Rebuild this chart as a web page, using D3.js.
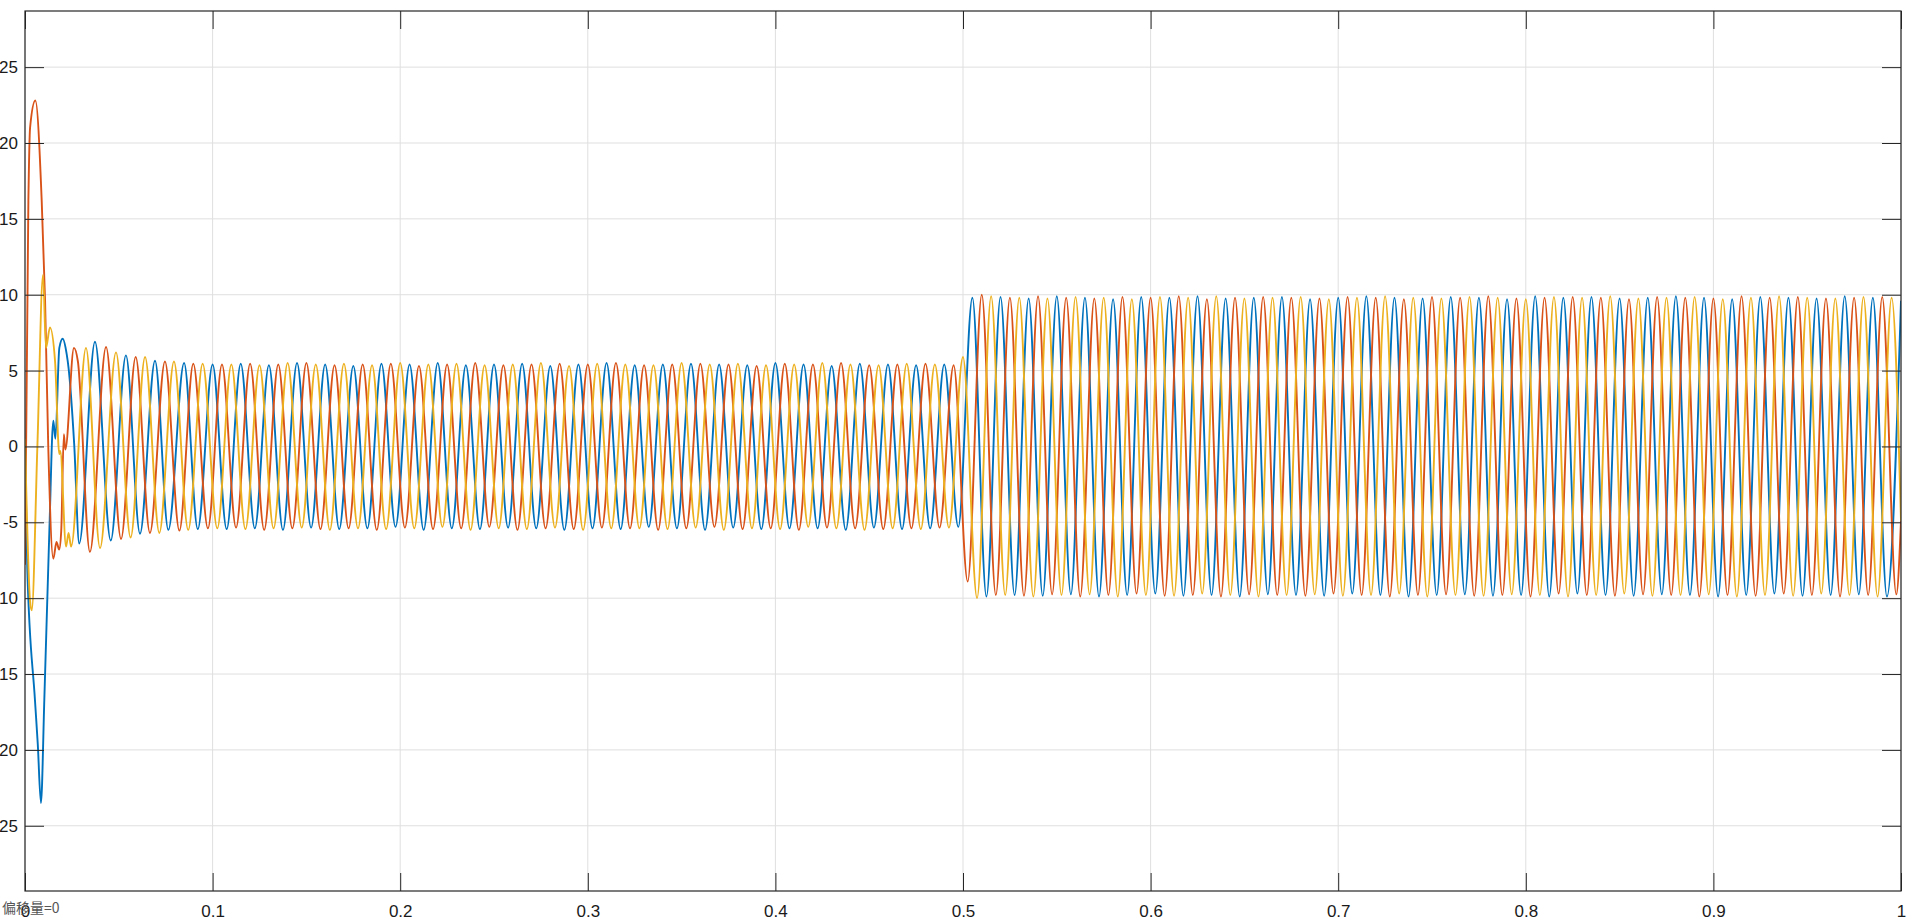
<!DOCTYPE html>
<html>
<head>
<meta charset="utf-8">
<script src="https://cdn.jsdelivr.net/npm/d3@7"></script>
<style>
  html, body { margin: 0; padding: 0; background: #ffffff; overflow: hidden; }
  svg { display: block; }
</style>
</head>
<body>
<script>
// ---------------- DATA ----------------
const xTicks = [0, 0.1, 0.2, 0.3, 0.4, 0.5, 0.6, 0.7, 0.8, 0.9, 1];
const xTickLabels = ["0", "0.1", "0.2", "0.3", "0.4", "0.5", "0.6", "0.7", "0.8", "0.9", "1"];
const yTicks = [-25, -20, -15, -10, -5, 0, 5, 10, 15, 20, 25];
const yTickLabels = ["-25", "-20", "-15", "-10", "-5", "0", "5", "10", "15", "20", "25"];
const xDomain = [0, 1];
const yDomain = [-29.3, 28.7];
const offsetLabel = "偏移量=0";
const seriesNames = ["ia", "ib", "ic"];

// phase A (blue): [time s, current A] at turning points
const phaseA = [[0,0],[0.0012,-8],[0.0053,-16.7],[0.0068,-19.6],[0.0085,-23.5],[0.0103,-16.7],[0.013,-5.5],[0.0151,1.7],[0.0162,0.5],[0.0183,6.5],[0.0201,7.1],[0.0222,6.1],[0.0232,5.2],[0.0262,0.2],[0.0289,-6.4],[0.0373,6.9],[0.0457,-6.2],[0.0538,6.0],[0.0613,-5.75],[0.0693,5.65],[0.0764,-5.5],[0.0848,5.5],[0.0921,-5.45],
[0.1,5.4],[0.1075,-5.45],[0.115,5.45],[0.1225,-5.4],[0.13,5.35],[0.1375,-5.5],[0.145,5.5],[0.1525,-5.35],[0.16,5.4],[0.1675,-5.45],[0.175,5.3],[0.1825,-5.4],[0.19,5.45],[0.1975,-5.3],[0.205,5.4],[0.2125,-5.5],[0.22,5.5],[0.2275,-5.4],[0.235,5.35],[0.2425,-5.45],[0.25,5.4],[0.2575,-5.35],[0.265,5.45],[0.2725,-5.4],[0.28,5.3],[0.2875,-5.5],[0.295,5.4],[0.3025,-5.4],[0.31,5.5],[0.3175,-5.45],[0.325,5.35],[0.3325,-5.3],[0.34,5.4],[0.3475,-5.4],[0.355,5.45],[0.3625,-5.5],[0.37,5.4],[0.3775,-5.35],[0.385,5.35],[0.3925,-5.45],[0.4,5.5],[0.4075,-5.4],[0.415,5.4],[0.4225,-5.4],[0.43,5.3],[0.4375,-5.5],[0.445,5.45],[0.4525,-5.35],[0.46,5.4],[0.4675,-5.45],[0.475,5.35],[0.4825,-5.4],[0.49,5.4],[0.4975,-5.3],
[0.505,9.8],[0.5125,-9.9],[0.52,9.85],[0.5275,-9.8],[0.535,9.75],[0.5425,-9.85],[0.55,9.9],[0.5575,-9.75],[0.565,9.8],[0.5725,-9.9],[0.58,9.7],[0.5875,-9.8],[0.595,9.85],[0.6025,-9.7],[0.61,9.8],[0.6175,-9.85],[0.625,9.9],[0.6325,-9.8],[0.64,9.75],[0.6475,-9.9],[0.655,9.8],[0.6625,-9.75],[0.67,9.85],[0.6775,-9.8],[0.685,9.7],[0.6925,-9.85],[0.7,9.8],[0.7075,-9.7],[0.715,9.9],[0.7225,-9.8],[0.73,9.8],[0.7375,-9.9],[0.745,9.75],[0.7525,-9.8],[0.76,9.85],[0.7675,-9.75],[0.775,9.8],[0.7825,-9.85],[0.79,9.7],[0.7975,-9.8],[0.805,9.9],[0.8125,-9.9],[0.82,9.8],[0.8275,-9.7],[0.835,9.85],[0.8425,-9.8],[0.85,9.75],[0.8575,-9.85],[0.865,9.8],[0.8725,-9.75],[0.88,9.9],[0.8875,-9.8],[0.895,9.8],[0.9025,-9.9],[0.91,9.7],[0.9175,-9.8],[0.925,9.85],[0.9325,-9.7],[0.94,9.8],[0.9475,-9.85],[0.955,9.75],[0.9625,-9.8],[0.97,9.9],[0.9775,-9.75],[0.985,9.8],[0.9925,-9.9],[1.0,9.6]];

// phase B (orange)
const phaseB = [[0,-7.8],[0.0018,16.2],[0.0027,21],[0.0055,22.8],[0.0089,16.2],[0.0107,9.6],[0.0124,0],[0.0151,-7.4],[0.0168,-6.3],[0.0182,-6.8],[0.0193,-5.6],[0.0207,0.8],[0.0215,-0.2],[0.0261,6.5],[0.0282,5.6],[0.0346,-6.95],[0.0432,6.55],[0.0512,-6.1],[0.059,5.9],[0.0666,-5.7],[0.0746,5.6],[0.0823,-5.55],[0.0897,5.45],[0.0975,-5.4],
[0.105,5.4],[0.1125,-5.35],[0.12,5.45],[0.1275,-5.5],[0.135,5.4],[0.1425,-5.4],[0.15,5.5],[0.1575,-5.45],[0.165,5.35],[0.1725,-5.4],[0.18,5.4],[0.1875,-5.5],[0.195,5.45],[0.2025,-5.35],[0.21,5.3],[0.2175,-5.45],[0.225,5.4],[0.2325,-5.4],[0.24,5.5],[0.2475,-5.3],[0.255,5.35],[0.2625,-5.5],[0.27,5.4],[0.2775,-5.4],[0.285,5.45],[0.2925,-5.45],[0.3,5.4],[0.3075,-5.35],[0.315,5.5],[0.3225,-5.4],[0.33,5.35],[0.3375,-5.5],[0.345,5.4],[0.3525,-5.4],[0.36,5.45],[0.3675,-5.3],[0.375,5.4],[0.3825,-5.45],[0.39,5.3],[0.3975,-5.4],[0.405,5.45],[0.4125,-5.5],[0.42,5.4],[0.4275,-5.35],[0.435,5.5],[0.4425,-5.4],[0.45,5.35],[0.4575,-5.45],[0.465,5.4],[0.4725,-5.4],[0.48,5.45],[0.4875,-5.35],[0.495,5.35],
[0.5025,-8.9],[0.51,10.0],[0.5175,-9.8],[0.525,9.8],[0.5325,-9.85],[0.54,9.9],[0.5475,-9.75],[0.555,9.8],[0.5625,-9.9],[0.57,9.75],[0.5775,-9.8],[0.585,9.85],[0.5925,-9.7],[0.6,9.8],[0.6075,-9.85],[0.615,9.9],[0.6225,-9.8],[0.63,9.7],[0.6375,-9.9],[0.645,9.8],[0.6525,-9.75],[0.66,9.85],[0.6675,-9.8],[0.675,9.8],[0.6825,-9.85],[0.69,9.75],[0.6975,-9.7],[0.705,9.85],[0.7125,-9.8],[0.72,9.8],[0.7275,-9.9],[0.735,9.7],[0.7425,-9.8],[0.75,9.85],[0.7575,-9.75],[0.765,9.8],[0.7725,-9.85],[0.78,9.9],[0.7875,-9.8],[0.795,9.75],[0.8025,-9.9],[0.81,9.8],[0.8175,-9.7],[0.825,9.85],[0.8325,-9.8],[0.84,9.8],[0.8475,-9.85],[0.855,9.7],[0.8625,-9.75],[0.87,9.85],[0.8775,-9.8],[0.885,9.8],[0.8925,-9.9],[0.9,9.75],[0.9075,-9.8],[0.915,9.9],[0.9225,-9.85],[0.93,9.8],[0.9375,-9.7],[0.945,9.85],[0.9525,-9.8],[0.96,9.75],[0.9675,-9.9],[0.975,9.8],[0.9825,-9.8],[0.99,9.85],[0.9975,-9.75],[1.0,-4.9]];

// phase C (yellow)
const phaseC = [[0,0.5],[0.0027,-10.2],[0.0036,-10.8],[0.0066,0],[0.0096,11.3],[0.0112,6.5],[0.0133,7.85],[0.016,5.65],[0.0183,-0.5],[0.0188,-0.3],[0.0219,-6.6],[0.0232,-5.7],[0.0246,-6.6],[0.0325,6.5],[0.04,-6.7],[0.0485,6.2],[0.0563,-6.0],[0.064,5.9],[0.0716,-5.7],[0.0794,5.6],[0.087,-5.5],[0.0947,5.45],[0.1025,-5.4],
[0.11,5.4],[0.1175,-5.45],[0.125,5.35],[0.1325,-5.4],[0.14,5.5],[0.1475,-5.35],[0.155,5.4],[0.1625,-5.5],[0.17,5.45],[0.1775,-5.4],[0.185,5.35],[0.1925,-5.45],[0.2,5.5],[0.2075,-5.4],[0.215,5.4],[0.2225,-5.3],[0.23,5.45],[0.2375,-5.5],[0.245,5.35],[0.2525,-5.4],[0.26,5.4],[0.2675,-5.45],[0.275,5.5],[0.2825,-5.35],[0.29,5.3],[0.2975,-5.5],[0.305,5.45],[0.3125,-5.4],[0.32,5.4],[0.3275,-5.4],[0.335,5.35],[0.3425,-5.45],[0.35,5.5],[0.3575,-5.35],[0.365,5.4],[0.3725,-5.5],[0.38,5.45],[0.3875,-5.4],[0.395,5.35],[0.4025,-5.45],[0.41,5.4],[0.4175,-5.3],[0.425,5.5],[0.4325,-5.4],[0.44,5.4],[0.4475,-5.5],[0.455,5.35],[0.4625,-5.4],[0.47,5.45],[0.4775,-5.45],[0.485,5.4],[0.4925,-5.35],[0.5,5.9],
[0.5075,-10.0],[0.515,9.9],[0.5225,-9.8],[0.53,9.8],[0.5375,-9.9],[0.545,9.75],[0.5525,-9.8],[0.56,9.85],[0.5675,-9.75],[0.575,9.8],[0.5825,-9.9],[0.59,9.7],[0.5975,-9.8],[0.605,9.85],[0.6125,-9.85],[0.62,9.8],[0.6275,-9.7],[0.635,9.9],[0.6425,-9.8],[0.65,9.75],[0.6575,-9.9],[0.665,9.8],[0.6725,-9.8],[0.68,9.85],[0.6875,-9.75],[0.695,9.7],[0.7025,-9.85],[0.71,9.8],[0.7175,-9.8],[0.725,9.9],[0.7325,-9.7],[0.74,9.8],[0.7475,-9.9],[0.755,9.75],[0.7625,-9.8],[0.77,9.85],[0.7775,-9.85],[0.785,9.8],[0.7925,-9.75],[0.8,9.7],[0.8075,-9.8],[0.815,9.85],[0.8225,-9.9],[0.83,9.8],[0.8375,-9.8],[0.845,9.9],[0.8525,-9.7],[0.86,9.75],[0.8675,-9.85],[0.875,9.8],[0.8825,-9.8],[0.89,9.85],[0.8975,-9.75],[0.905,9.7],[0.9125,-9.9],[0.92,9.8],[0.9275,-9.8],[0.935,9.9],[0.9425,-9.85],[0.95,9.8],[0.9575,-9.7],[0.965,9.75],[0.9725,-9.8],[0.98,9.85],[0.9875,-9.9],[0.995,9.8],[1.0,-4.9]];

const seriesColors = ["#0072BD", "#D95319", "#EDB120"];

// ---------------- LAYOUT ----------------
const W = 1920, H = 920;
const plot = { left: 25, top: 11, right: 1901, bottom: 891 };

const svg = d3.select("body").append("svg").attr("width", W).attr("height", H);

const x = d3.scaleLinear().domain(xDomain).range([plot.left, plot.right]);
const y = d3.scaleLinear().domain(yDomain).range([plot.bottom, plot.top]);

// grid
const grid = svg.append("g").attr("class", "grid");
grid.selectAll("line.gx").data(xTicks).join("line")
  .attr("x1", d => x(d)).attr("x2", d => x(d))
  .attr("y1", plot.top).attr("y2", plot.bottom)
  .attr("stroke", "#dfdfdf").attr("stroke-width", 1);
grid.selectAll("line.gy").data(yTicks).join("line")
  .attr("y1", d => y(d)).attr("y2", d => y(d))
  .attr("x1", plot.left).attr("x2", plot.right)
  .attr("stroke", "#dfdfdf").attr("stroke-width", 1);

// data
svg.append("clipPath").attr("id", "clip").append("rect")
  .attr("x", plot.left).attr("y", plot.top)
  .attr("width", plot.right - plot.left).attr("height", plot.bottom - plot.top);

const line = d3.line().x(d => x(d[0])).y(d => y(d[1])).curve(d3.curveMonotoneX);
const series = [phaseA, phaseB, phaseC];
svg.append("g").attr("clip-path", "url(#clip)")
  .selectAll("path").data(series).join("path")
  .attr("d", line)
  .attr("fill", "none")
  .attr("stroke", (d, i) => seriesColors[i])
  .attr("stroke-width", 1.9)
  .attr("stroke-linejoin", "round");

// axes (ticks inward on all sides)
const axisColor = "#262626";
const fontFam = "'Liberation Sans', Arial, Helvetica, sans-serif";

const xAxisB = d3.axisBottom(x).tickValues(xTicks)
  .tickFormat((d, i) => xTickLabels[i]).tickSizeInner(-18).tickSizeOuter(0).tickPadding(14);
const gxb = svg.append("g").attr("transform", `translate(0,${plot.bottom})`).call(xAxisB);

const xAxisT = d3.axisTop(x).tickValues(xTicks).tickFormat("").tickSizeInner(-18).tickSizeOuter(0);
const gxt = svg.append("g").attr("transform", `translate(0,${plot.top})`).call(xAxisT);

const yAxisL = d3.axisLeft(y).tickValues(yTicks)
  .tickFormat((d, i) => yTickLabels[i]).tickSizeInner(-19).tickSizeOuter(0).tickPadding(7);
const gyl = svg.append("g").attr("transform", `translate(${plot.left},0)`).call(yAxisL);

const yAxisR = d3.axisRight(y).tickValues(yTicks).tickFormat("").tickSizeInner(-19).tickSizeOuter(0);
const gyr = svg.append("g").attr("transform", `translate(${plot.right},0)`).call(yAxisR);

[gxb, gxt, gyl, gyr].forEach(g => {
  g.select(".domain").remove();
  g.selectAll(".tick line").attr("stroke", axisColor).attr("stroke-width", 1);
  g.selectAll(".tick text").attr("fill", "#1a1a1a")
    .style("font-family", fontFam).style("font-size", "17px");
});

// box
svg.append("rect")
  .attr("x", plot.left).attr("y", plot.top)
  .attr("width", plot.right - plot.left).attr("height", plot.bottom - plot.top)
  .attr("fill", "none").attr("stroke", axisColor).attr("stroke-width", 1.2);

// offset note
svg.append("text")
  .attr("x", 2).attr("y", 913)
  .attr("fill", "#555555")
  .style("font-family", "'Noto Sans CJK SC', sans-serif")
  .style("font-size", "14px")
  .text(offsetLabel);
</script>
</body>
</html>
